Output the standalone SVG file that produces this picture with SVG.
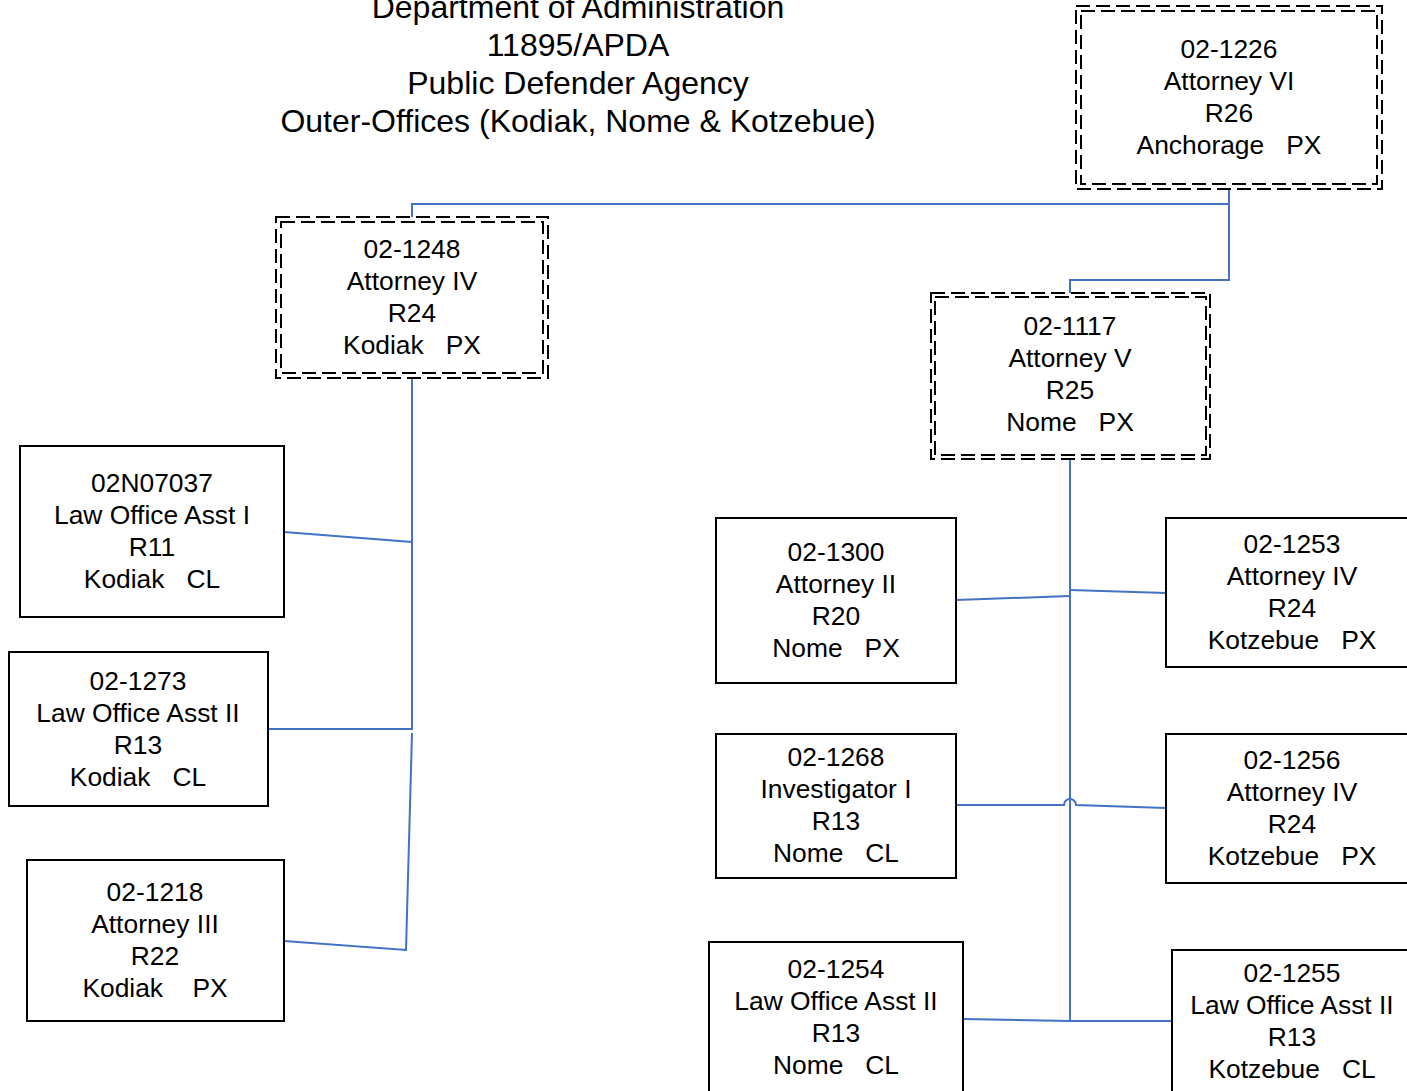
<svg xmlns="http://www.w3.org/2000/svg" width="1407" height="1091" viewBox="0 0 1407 1091">
<style>
.box{fill:#fff;stroke:#000;stroke-width:2}
.dash{fill:none;stroke:#000;stroke-width:2;stroke-dasharray:14 6}
.t{font-family:"Liberation Sans",Arial,sans-serif;font-size:26.4px;fill:#000;text-anchor:middle;white-space:pre}
.title{font-family:"Liberation Sans",Arial,sans-serif;font-size:32px;fill:#000;text-anchor:middle}
.c{fill:none;stroke:#4472C4;stroke-width:2}
</style>
<rect width="1407" height="1091" fill="#fff"/>
<g id="title">
<text class="title" x="578" y="18">Department of Administration</text>
<text class="title" x="578" y="56">11895/APDA</text>
<text class="title" x="578" y="94">Public Defender Agency</text>
<text class="title" x="578" y="132">Outer-Offices (Kodiak, Nome &amp; Kotzebue)</text>
</g>
<g id="connectors">
<path class="c" d="M1229,189 V204 H412 V217"/>
<path class="c" d="M1229,204 V280 H1070 V293"/>
<path class="c" d="M412,378 V729 H268"/>
<path class="c" d="M284,532 L412,542"/>
<path class="c" d="M412,733 L406,950 L284,941"/>
<path class="c" d="M1070,459 V1021"/>
<path class="c" d="M956,600 L1070,596"/>
<path class="c" d="M1070,590 L1166,593"/>
<path class="c" d="M956,805 H1064 A6,6 0 0 1 1076,805 L1166,808"/>
<path class="c" d="M963,1019 L1070,1021 H1172"/>
</g>
<g id="n1226">
<rect class="dash" x="1076" y="6" width="306" height="183"/>
<rect class="dash" x="1081" y="11" width="296" height="173"/>
<text class="t" x="1229" y="58">02-1226</text>
<text class="t" x="1229" y="90">Attorney VI</text>
<text class="t" x="1229" y="122">R26</text>
<text class="t" x="1229" y="154" xml:space="preserve">Anchorage   PX</text>
</g>
<g id="n1248">
<rect class="dash" x="276" y="217" width="272" height="161"/>
<rect class="dash" x="281" y="222" width="262" height="151"/>
<text class="t" x="412" y="258">02-1248</text>
<text class="t" x="412" y="290">Attorney IV</text>
<text class="t" x="412" y="322">R24</text>
<text class="t" x="412" y="354" xml:space="preserve">Kodiak   PX</text>
</g>
<g id="n1117">
<rect class="dash" x="931" y="293" width="279" height="166"/>
<rect class="dash" x="935" y="297" width="271" height="158"/>
<text class="t" x="1070" y="335">02-1117</text>
<text class="t" x="1070" y="367">Attorney V</text>
<text class="t" x="1070" y="399">R25</text>
<text class="t" x="1070" y="431" xml:space="preserve">Nome   PX</text>
</g>
<g id="n07037">
<rect class="box" x="20" y="446" width="264" height="171"/>
<text class="t" x="152" y="492">02N07037</text>
<text class="t" x="152" y="524">Law Office Asst I</text>
<text class="t" x="152" y="556">R11</text>
<text class="t" x="152" y="588" xml:space="preserve">Kodiak   CL</text>
</g>
<g id="n1273">
<rect class="box" x="9" y="652" width="259" height="154"/>
<text class="t" x="138" y="690">02-1273</text>
<text class="t" x="138" y="722">Law Office Asst II</text>
<text class="t" x="138" y="754">R13</text>
<text class="t" x="138" y="786" xml:space="preserve">Kodiak   CL</text>
</g>
<g id="n1218">
<rect class="box" x="27" y="860" width="257" height="161"/>
<text class="t" x="155" y="901">02-1218</text>
<text class="t" x="155" y="933">Attorney III</text>
<text class="t" x="155" y="965">R22</text>
<text class="t" x="155" y="997" xml:space="preserve">Kodiak    PX</text>
</g>
<g id="n1300">
<rect class="box" x="716" y="518" width="240" height="165"/>
<text class="t" x="836" y="561">02-1300</text>
<text class="t" x="836" y="593">Attorney II</text>
<text class="t" x="836" y="625">R20</text>
<text class="t" x="836" y="657" xml:space="preserve">Nome   PX</text>
</g>
<g id="n1268">
<rect class="box" x="716" y="734" width="240" height="144"/>
<text class="t" x="836" y="766">02-1268</text>
<text class="t" x="836" y="798">Investigator I</text>
<text class="t" x="836" y="830">R13</text>
<text class="t" x="836" y="862" xml:space="preserve">Nome   CL</text>
</g>
<g id="n1254">
<rect class="box" x="709" y="942" width="254" height="160"/>
<text class="t" x="836" y="978">02-1254</text>
<text class="t" x="836" y="1010">Law Office Asst II</text>
<text class="t" x="836" y="1042">R13</text>
<text class="t" x="836" y="1074" xml:space="preserve">Nome   CL</text>
</g>
<g id="n1253">
<rect class="box" x="1166" y="518" width="250" height="149"/>
<text class="t" x="1292" y="553">02-1253</text>
<text class="t" x="1292" y="585">Attorney IV</text>
<text class="t" x="1292" y="617">R24</text>
<text class="t" x="1292" y="649" xml:space="preserve">Kotzebue   PX</text>
</g>
<g id="n1256">
<rect class="box" x="1166" y="734" width="250" height="149"/>
<text class="t" x="1292" y="769">02-1256</text>
<text class="t" x="1292" y="801">Attorney IV</text>
<text class="t" x="1292" y="833">R24</text>
<text class="t" x="1292" y="865" xml:space="preserve">Kotzebue   PX</text>
</g>
<g id="n1255">
<rect class="box" x="1172" y="950" width="250" height="150"/>
<text class="t" x="1292" y="982">02-1255</text>
<text class="t" x="1292" y="1014">Law Office Asst II</text>
<text class="t" x="1292" y="1046">R13</text>
<text class="t" x="1292" y="1078" xml:space="preserve">Kotzebue   CL</text>
</g>
</svg>
